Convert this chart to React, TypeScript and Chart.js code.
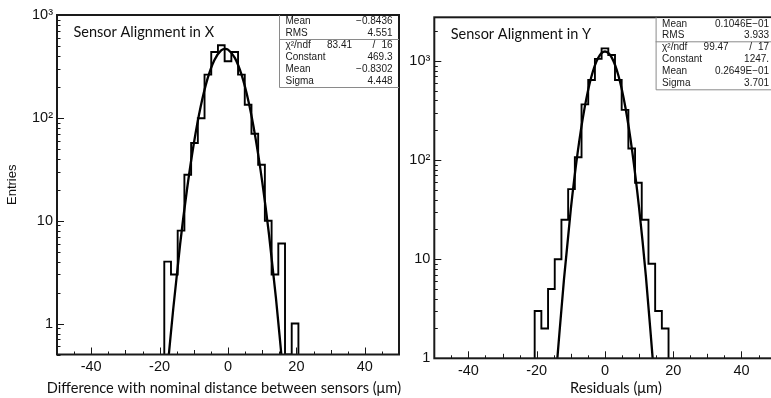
import React, { useEffect, useRef } from "react";
import { Chart, registerables } from "chart.js";

Chart.register(...registerables);

// ---------------- data ----------------
// Histogram bin edges (51 bins over -50..50, only populated region listed)
const LEFT_BIN_EDGES = [-18.63, -16.67, -14.71, -12.75, -10.78, -8.82, -6.86, -4.9, -2.94, -0.98, 0.98, 2.94, 4.9, 6.86, 8.82, 10.78, 12.75, 14.71, 16.67, 18.63, 20.59];
const LEFT_COUNTS = [4, 3, 8, 28, 57, 99, 263, 437, 508, 355, 437, 263, 134, 70, 35, 10, 3, 6, 0, 1];
const LEFT_FIT_X = [-17.3, -16, -14, -12, -10, -8, -6, -4, -2, -0.83, 0, 2, 4, 6, 8, 10, 12, 14, 15.6];
const LEFT_FIT_Y = [0.5, 1.4, 5.9, 20, 56, 128, 239, 364, 453, 469, 461, 383, 260, 144, 65, 24, 7.3, 1.8, 0.5];

const RIGHT_BIN_EDGES = [-20.59, -18.63, -16.67, -14.71, -12.75, -10.78, -8.82, -6.86, -4.9, -2.94, -0.98, 0.98, 2.94, 4.9, 6.86, 8.82, 10.78, 12.75, 14.71, 16.67, 18.63];
const RIGHT_COUNTS = [3, 2, 5, 10, 25, 51, 107, 365, 644, 1050, 1340, 1150, 644, 321, 131, 59, 25, 9, 3, 2];
const RIGHT_FIT_X = [-13.95, -12, -10, -8, -6, -4, -2, 0, 2, 4, 6, 8, 10, 12, 13.98];
const RIGHT_FIT_Y = [1, 6.3, 32, 119, 331, 690, 1073, 1247, 1082, 701, 339, 122, 33, 6.7, 1];

const X_MIN = -50;
const X_MAX = 50;
const X_TICKS = [-40, -20, 0, 20, 40];
const Y_TICKS = [1, 10, 100, 1000];
const Y_TICK_LABELS: Record<number, string> = { 1: "1", 10: "10", 100: "10²", 1000: "10³" };
const LEFT_Y_RANGE = [0.5, 1000];
const RIGHT_Y_RANGE = [1, 2760];

const LEFT_TITLE = "Sensor Alignment in X";
const RIGHT_TITLE = "Sensor Alignment in Y";
const LEFT_X_LABEL = "Difference with nominal distance between sensors (μm)";
const RIGHT_X_LABEL = "Residuals (μm)";
const Y_LABEL = "Entries";

const LEFT_STATS = [["Mean", "−0.8436"], ["RMS", "4.551"]];
const LEFT_FIT_STATS = [["χ²/ndf", "83.41", "16"], ["Constant", "469.3"], ["Mean", "−0.8302"], ["Sigma", "4.448"]];
const RIGHT_STATS = [["Mean", "0.1046E−01"], ["RMS", "3.933"]];
const RIGHT_FIT_STATS = [["χ²/ndf", "99.47", "17"], ["Constant", "1247."], ["Mean", "0.2649E−01"], ["Sigma", "3.701"]];

// ---------------- helpers ----------------
function histPoints(edges: number[], counts: number[], floor: number) {
  const pts = [{ x: edges[0], y: floor }];
  counts.forEach((c, i) => pts.push({ x: edges[i], y: c > 0 ? c : floor }));
  pts.push({ x: edges[edges.length - 1], y: floor });
  return pts;
}

type Spec = {
  width: number;
  height: number;
  left: number;
  edges: number[];
  counts: number[];
  fitX: number[];
  fitY: number[];
  yRange: number[];
  title: string;
  xLabel: string;
  xLabelShift: number;
  yLabel?: string;
  stats: string[][];
  fitStats: string[][];
  yAxisW: number;
  xAxisH: number;
  padTop: number;
  padRight: number;
};

function decorPlugin(spec: Spec) {
  return {
    id: "decor",
    afterDatasetsDraw(chart: any) {
      const { ctx, chartArea: a, scales } = chart;
      const xs = scales.x;
      const ys = scales.y;
      ctx.save();
      ctx.strokeStyle = "#161616";
      ctx.lineWidth = 1;
      ctx.beginPath();
      for (let v = X_MIN; v <= X_MAX; v += 5) {
        const px = Math.round(xs.getPixelForValue(v)) + 0.5;
        const len = v % 20 === 0 ? 7 : v % 10 === 0 ? 4.5 : 3;
        ctx.moveTo(px, a.bottom);
        ctx.lineTo(px, a.bottom - len);
      }
      const [ymin, ymax] = spec.yRange;
      for (let d = Math.floor(Math.log10(ymin)); d <= Math.ceil(Math.log10(ymax)); d++) {
        for (let m = 1; m <= 9; m++) {
          const v = m * Math.pow(10, d);
          if (v < ymin || v > ymax) continue;
          const py = Math.round(ys.getPixelForValue(v)) + 0.5;
          const len = m === 1 ? 7 : 3.5;
          ctx.moveTo(a.left, py);
          ctx.lineTo(a.left + len, py);
        }
      }
      ctx.stroke();
      // frame
      ctx.lineWidth = 2;
      ctx.strokeStyle = "#1a1a1a";
      ctx.strokeRect(a.left, a.top, a.right - a.left, a.bottom - a.top);
      ctx.restore();
    },
    afterDraw(chart: any) {
      const { ctx, chartArea: a } = chart;
      ctx.save();
      // title inside plot
      ctx.fillStyle = "#111";
      ctx.font = "14.5px Lato";
      ctx.textBaseline = "middle";
      ctx.textAlign = "left";
      ctx.fillText(spec.title, a.left + 16.5, a.top + 17.5);
      // x axis title
      ctx.font = "14.6px Lato";
      ctx.textAlign = "center";
      ctx.fillText(spec.xLabel, (a.left + a.right) / 2 + spec.xLabelShift, chart.height - 10);
      // stats box
      const bw = 120;
      const bh = 72;
      const bx = a.right - bw;
      const by = a.top;
      ctx.fillStyle = "#fff";
      ctx.fillRect(bx, by + 1, bw - 1, bh - 1);
      ctx.strokeStyle = "#8a8a8a";
      ctx.lineWidth = 1;
      ctx.beginPath();
      ctx.moveTo(bx + 0.5, by);
      ctx.lineTo(bx + 0.5, by + bh + 0.5);
      ctx.lineTo(a.right, by + bh + 0.5);
      ctx.moveTo(bx, by + 24.5);
      ctx.lineTo(a.right, by + 24.5);
      ctx.stroke();
      ctx.fillStyle = "#1a1a1a";
      ctx.font = "10px 'Liberation Sans', Arial";
      ctx.textBaseline = "middle";
      const rows = [...spec.stats, ...spec.fitStats];
      rows.forEach((r, i) => {
        const ty = by + 6.5 + i * 11.9;
        ctx.textAlign = "left";
        ctx.fillText(r[0], bx + 6.5, ty);
        ctx.textAlign = "right";
        if (r.length === 3) {
          ctx.fillText(r[1], bx + 73, ty);
          ctx.textAlign = "center";
          ctx.fillText("/", bx + 95, ty);
          ctx.textAlign = "right";
          ctx.fillText(r[2], a.right - 6.5, ty);
        } else {
          ctx.fillText(r[1], a.right - 6.5, ty);
        }
      });
      ctx.restore();
    },
  };
}

function makeConfig(spec: Spec): any {
  return {
    type: "line",
    data: {
      datasets: [
        {
          data: histPoints(spec.edges, spec.counts, spec.yRange[0]),
          borderColor: "#000",
          borderWidth: 1.9,
          stepped: "before",
          pointRadius: 0,
          fill: false,
        },
        {
          data: spec.fitX.map((x, i) => ({ x, y: spec.fitY[i] })),
          borderColor: "#000",
          borderWidth: 2.3,
          cubicInterpolationMode: "monotone",
          pointRadius: 0,
          fill: false,
        },
      ],
    },
    options: {
      animation: false,
      responsive: false,
      events: [],
      layout: { autoPadding: false, padding: { top: spec.padTop, right: spec.padRight, left: 0, bottom: 0 } },
      plugins: { legend: { display: false }, tooltip: { enabled: false }, title: { display: false } },
      scales: {
        x: {
          type: "linear",
          min: X_MIN,
          max: X_MAX,
          grid: { display: false, drawTicks: false },
          border: { display: false },
          afterBuildTicks: (s: any) => {
            s.ticks = X_TICKS.map((v) => ({ value: v }));
          },
          afterFit: (s: any) => {
            s.height = spec.xAxisH;
          },
          ticks: {
            autoSkip: false,
            maxRotation: 0,
            padding: 4,
            color: "#111",
            font: { family: "'Liberation Sans', Arial", size: 14.5 },
          },
          title: { display: false },
        },
        y: {
          type: "logarithmic",
          min: spec.yRange[0],
          max: spec.yRange[1],
          grid: { display: false, drawTicks: false },
          border: { display: false },
          afterBuildTicks: (s: any) => {
            s.ticks = Y_TICKS.filter((v) => v >= spec.yRange[0] && v <= spec.yRange[1]).map((v) => ({ value: v }));
          },
          afterFit: (s: any) => {
            s.width = spec.yAxisW;
          },
          ticks: {
            autoSkip: false,
            padding: 4,
            color: "#111",
            font: { family: "'Liberation Sans', Arial", size: 14.5 },
            callback: (v: number) => Y_TICK_LABELS[v] ?? "",
          },
          title: {
            display: !!spec.yLabel,
            text: spec.yLabel || "",
            color: "#111",
            font: { family: "'Liberation Sans', Arial", size: 13 },
            padding: { top: 5, bottom: 0 },
          },
        },
      },
    },
    plugins: [decorPlugin(spec)],
  };
}

function HistChart({ spec }: { spec: Spec }) {
  const ref = useRef<HTMLCanvasElement>(null);
  useEffect(() => {
    const chart = new Chart(ref.current as HTMLCanvasElement, makeConfig(spec));
    return () => chart.destroy();
  }, []);
  return (
    <canvas
      ref={ref}
      width={spec.width}
      height={spec.height}
      style={{ position: "absolute", left: spec.left, top: 0, width: spec.width, height: spec.height }}
    />
  );
}

const LEFT_SPEC: Spec = {
  width: 405,
  height: 398,
  left: 0,
  edges: LEFT_BIN_EDGES,
  counts: LEFT_COUNTS,
  fitX: LEFT_FIT_X,
  fitY: LEFT_FIT_Y,
  yRange: LEFT_Y_RANGE,
  title: LEFT_TITLE,
  xLabel: LEFT_X_LABEL,
  xLabelShift: -4,
  yLabel: Y_LABEL,
  stats: LEFT_STATS,
  fitStats: LEFT_FIT_STATS,
  yAxisW: 57,
  xAxisH: 43.5,
  padTop: 15,
  padRight: 6,
};

const RIGHT_SPEC: Spec = {
  width: 380,
  height: 398,
  left: 405,
  edges: RIGHT_BIN_EDGES,
  counts: RIGHT_COUNTS,
  fitX: RIGHT_FIT_X,
  fitY: RIGHT_FIT_Y,
  yRange: RIGHT_Y_RANGE,
  title: RIGHT_TITLE,
  xLabel: RIGHT_X_LABEL,
  xLabelShift: 11,
  stats: RIGHT_STATS,
  fitStats: RIGHT_FIT_STATS,
  yAxisW: 29.3,
  xAxisH: 39.7,
  padTop: 17.3,
  padRight: 9.4,
};

export default function App() {
  return (
    <div
      style={{
        position: "absolute",
        left: 0,
        top: 0,
        width: 771,
        height: 398,
        overflow: "hidden",
        background: "#fff",
      }}
    >
      <HistChart spec={LEFT_SPEC} />
      <HistChart spec={RIGHT_SPEC} />
    </div>
  );
}
